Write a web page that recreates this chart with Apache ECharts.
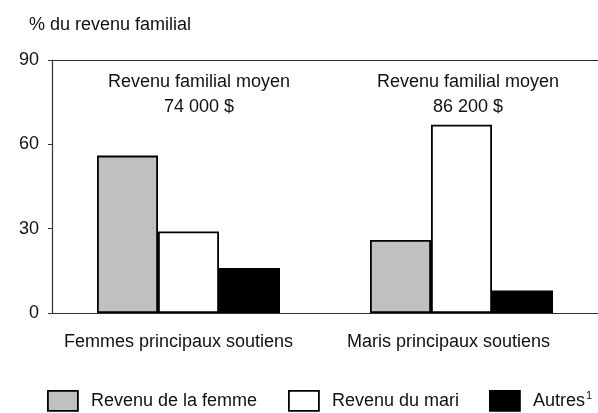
<!DOCTYPE html>
<html><head><meta charset="utf-8">
<script src="https://cdn.jsdelivr.net/npm/echarts@6/dist/echarts.min.js"></script>
<style>html,body{margin:0;padding:0;background:#fff}#c{width:598px;height:413px}</style>
</head><body><div id="c"></div>
<script>
var categories = ['Femmes principaux soutiens', 'Maris principaux soutiens'];
var femme = [56, 26];
var mari = [29, 67];
var autres = [16, 8];
var yTicks = [0, 30, 60, 90];
var moyens = ['74 000 $', '86 200 $'];

var F = '"Liberation Sans", Arial, sans-serif';
var FS = 18;
var chart = echarts.init(document.getElementById('c'), null, {renderer: 'canvas'});
var barStyle = function (c) { return {color: c, borderColor: '#000', borderWidth: 1.8}; };
chart.setOption({
  animation: false,
  title: {text: '% du revenu familial', left: 24, top: 11,
    textStyle: {fontFamily: F, fontSize: FS, fontWeight: 'normal', color: '#111'}},
  grid: {left: 52, right: -5, top: 60, bottom: 100},
  xAxis: [{
    type: 'category', data: categories,
    axisLine: {lineStyle: {color: '#333', width: 1.2}},
    axisTick: {show: false},
    axisLabel: {interval: 0, margin: 20, color: '#111', fontFamily: F, fontSize: FS,
      formatter: function (v, i) { return i === 0 ? '{a|' + v + '}' : '{b|' + v + '}'; },
      rich: {a: {fontFamily: F, fontSize: FS, color: '#111', padding: [0, 20, 0, 0]},
             b: {fontFamily: F, fontSize: FS, color: '#111', padding: [0, 26, 0, 0]}}}
  }, {
    type: 'category', data: categories, position: 'top',
    axisLine: {show: true, lineStyle: {color: '#333', width: 1.2}},
    axisTick: {show: false}, axisLabel: {show: false}
  }],
  yAxis: {
    type: 'value', min: 0, max: 90, interval: 30,
    axisLine: {show: true, lineStyle: {color: '#333', width: 1.2}},
    axisTick: {show: true, length: 4, lineStyle: {color: '#333'}},
    splitLine: {show: false},
    axisLabel: {margin: 13, color: '#111', fontFamily: F, fontSize: FS,
      formatter: function (v) { return yTicks.indexOf(v) >= 0 ? String(v) : ''; }}
  },
  legend: [
    {data: ['Revenu de la femme'], left: 47, top: 390},
    {data: ['Revenu du mari'], left: 288, top: 390},
    {data: ['Autres'], left: 489, top: 390}
  ].map(function (l) {
    l.itemWidth = 30; l.itemHeight = 20; l.padding = 0; l.icon = 'rect';
    l.itemStyle = {borderColor: '#000', borderWidth: 1.8};
    l.formatter = function (n) { return n === 'Autres' ? '{t|Autres}{s|1}' : '{t|' + n + '}'; };
    l.textStyle = {fontFamily: F, fontSize: FS, color: '#111', padding: [0, 0, 0, 8],
      rich: {t: {fontFamily: F, fontSize: FS, color: '#111'},
             s: {fontFamily: F, fontSize: 11, color: '#111', verticalAlign: 'top', padding: [0, 0, 10, 1]}}};
    return l;
  }),
  series: [
    {name: 'Revenu de la femme', type: 'bar', data: femme, barWidth: 61, barGap: '0%', itemStyle: barStyle('#c0c0c0')},
    {name: 'Revenu du mari', type: 'bar', data: mari, barWidth: 61, barGap: '0%', itemStyle: barStyle('#ffffff')},
    {name: 'Autres', type: 'bar', data: autres, barWidth: 61, barGap: '0%', itemStyle: barStyle('#000000')}
  ],
  graphic: moyens.map(function (m, i) {
    return {type: 'text', x: [199, 468][i], y: 70,
      style: {text: 'Revenu familial moyen\n' + m, textAlign: 'center', fontFamily: F, fontSize: FS,
        fill: '#111', lineHeight: 25}};
  })
});
</script></body></html>
